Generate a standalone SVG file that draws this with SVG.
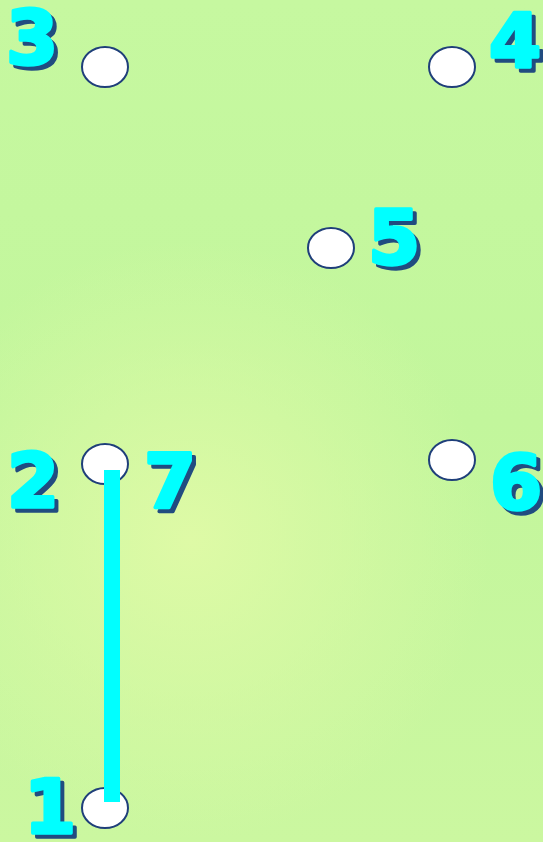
<svg xmlns="http://www.w3.org/2000/svg" width="543" height="842" viewBox="0 0 543 842">
<defs>
<radialGradient id="bg2" cx="190" cy="540" r="300" gradientUnits="userSpaceOnUse">
<stop offset="0" stop-color="#defaa6"/>
<stop offset="1" stop-color="#defaa6" stop-opacity="0"/>
</radialGradient>
<linearGradient id="bg1" x1="0" y1="0" x2="0" y2="1">
<stop offset="0" stop-color="#c6f8a0"/>
<stop offset="0.5" stop-color="#c2f69c"/>
<stop offset="1" stop-color="#cbf7a0"/>
</linearGradient>
</defs>
<style>
.node{fill:#ffffff;stroke:#1f3f7a;stroke-width:2}
.lbl{font-family:"DejaVu Sans",sans-serif;font-weight:bold;font-size:75px;text-anchor:middle;stroke-width:3.5;stroke-linejoin:round}
.sh{fill:#214c80;stroke:#214c80}
.fg{fill:#00ffff;stroke:#00ffff}
.edge{stroke:#00ffff;stroke-width:16;fill:none}
</style>
<rect width="543" height="842" fill="url(#bg1)"/>
<rect width="543" height="842" fill="url(#bg2)"/>
<g id="node3"><ellipse class="node" cx="105" cy="67" rx="23" ry="20"/><text class="lbl sh" x="36" y="68">3</text><text class="lbl fg" x="32" y="64">3</text></g>
<g id="node4"><ellipse class="node" cx="452" cy="67" rx="23" ry="20"/><text class="lbl sh" x="519" y="71">4</text><text class="lbl fg" x="515" y="67">4</text></g>
<g id="node5"><ellipse class="node" cx="331" cy="248" rx="23" ry="20"/><text class="lbl sh" x="398" y="268">5</text><text class="lbl fg" x="394" y="264">5</text></g>
<g id="node2"><ellipse class="node" cx="105" cy="464" rx="23" ry="20"/><text class="lbl sh" x="37" y="511">2</text><text class="lbl fg" x="33" y="507">2</text><text class="lbl sh" x="174" y="511">7</text><text class="lbl fg" x="170" y="507">7</text></g>
<g id="node6"><ellipse class="node" cx="452" cy="460" rx="23" ry="20"/><text class="lbl sh" x="520" y="513">6</text><text class="lbl fg" x="516" y="509">6</text></g>
<g id="node1"><ellipse class="node" cx="105" cy="808" rx="23" ry="20"/><text class="lbl sh" x="54" y="837">1</text><text class="lbl fg" x="50" y="833">1</text></g>
<g id="connectors"><line class="edge" x1="112" y1="470" x2="112" y2="802"/></g>
</svg>
